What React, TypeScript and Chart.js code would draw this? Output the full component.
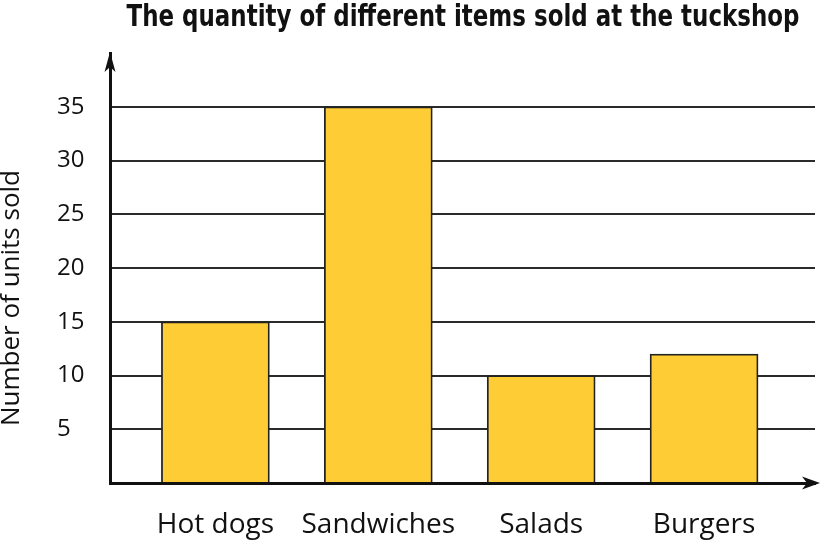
import React, { useEffect, useRef } from "react";
import { Chart, registerables } from "chart.js";

Chart.register(...registerables);

const categories = ["Hot dogs", "Sandwiches", "Salads", "Burgers"];
const unitsSold = [15, 35, 10, 12];
const yTickValues = [5, 10, 15, 20, 25, 30, 35];
const titleText = "The quantity of different items sold at the tuckshop";
const yAxisTitle = "Number of units sold";

const FONT = "'Open Sans', 'DejaVu Sans', sans-serif";

const decorPlugin = {
  id: "decor",
  afterDraw(chart: any) {
    const { ctx, chartArea } = chart;
    ctx.save();
    // Title (condensed bold)
    ctx.fillStyle = "#111";
    ctx.font = "bold 28px 'DejaVu Sans', sans-serif";
    try {
      (ctx as any).fontStretch = "condensed";
    } catch (e) {}
    ctx.textAlign = "center";
    ctx.textBaseline = "alphabetic";
    const w = ctx.measureText(titleText).width;
    const sx = Math.min(1, 673 / w);
    ctx.save();
    ctx.translate(463, 26);
    ctx.scale(sx, 1.05);
    ctx.fillText(titleText, 0, 0);
    ctx.restore();
    try {
      (ctx as any).fontStretch = "normal";
    } catch (e) {}
    // Y axis title
    ctx.save();
    ctx.translate(12, 298);
    ctx.rotate(-Math.PI / 2);
    ctx.font = `26px ${FONT}`;
    ctx.textAlign = "center";
    ctx.textBaseline = "middle";
    ctx.fillStyle = "#111";
    ctx.fillText(yAxisTitle, 0, 0);
    ctx.restore();
    // Arrowheads
    ctx.fillStyle = "#111";
    const xAxis = chart.scales.x;
    const yAxis = chart.scales.y;
    const ax = yAxis.right;
    const topY = chartArea.top - 1;
    ctx.beginPath();
    ctx.moveTo(ax, topY);
    ctx.lineTo(ax - 5.5, topY + 20);
    ctx.lineTo(ax, topY + 15);
    ctx.lineTo(ax + 5.5, topY + 20);
    ctx.closePath();
    ctx.fill();
    const ay = xAxis.top;
    const rx = chartArea.right + 5;
    ctx.beginPath();
    ctx.moveTo(rx, ay);
    ctx.lineTo(rx - 18, ay - 6.5);
    ctx.lineTo(rx - 13, ay);
    ctx.lineTo(rx - 18, ay + 6.5);
    ctx.closePath();
    ctx.fill();
    ctx.restore();
  },
};

export default function App() {
  const ref = useRef<HTMLCanvasElement | null>(null);
  useEffect(() => {
    document.body.style.margin = "0";
    const canvas = ref.current;
    if (!canvas) return;
    const chart = new Chart(canvas, {
      type: "bar",
      data: {
        datasets: [
          {
            data: unitsSold.map((v, i) => ({ x: i, y: v })),
            backgroundColor: "#FECD35",
            borderColor: "#222",
            borderWidth: 1.8,
            barThickness: 108,
          },
        ],
      },
      plugins: [decorPlugin],
      options: {
        responsive: false,
        animation: false,
        devicePixelRatio: 1,
        layout: { padding: { top: 53, right: 5, left: 57, bottom: 0 } },
        plugins: {
          legend: { display: false },
          title: { display: false },
          tooltip: { enabled: false },
        },
        scales: {
          x: {
            type: "linear",
            offset: false,
            min: -0.647,
            max: 3.681,
            afterBuildTicks: (scale: any) => {
              scale.ticks = categories.map((_, i) => ({ value: i }));
            },
            afterFit: (scale: any) => {
              scale.height = 59;
            },
            grid: { display: false, drawTicks: false, offset: false },
            border: { display: true, color: "#111", width: 3 },
            ticks: {
              padding: 25,
              color: "#111",
              font: { family: FONT, size: 28 },
              maxRotation: 0,
              autoSkip: false,
              callback: (v: any) => categories[v] ?? "",
            },
          },
          y: {
            min: 0,
            max: 40,
            afterBuildTicks: (scale: any) => {
              scale.ticks = [0, ...yTickValues, 40].map((v) => ({ value: v }));
            },
            afterFit: (scale: any) => {
              scale.width = 53;
            },
            grid: {
              drawTicks: false,
              color: (c: any) =>
                c.tick && (c.tick.value === 0 || c.tick.value === 40) ? "rgba(0,0,0,0)" : "#2a2a2a",
              lineWidth: 2,
            },
            border: { display: true, color: "#111", width: 3 },
            ticks: {
              crossAlign: "far",
              padding: 0,
              color: "#111",
              font: { family: FONT, size: 24 },
              callback: (v: any) => (v === 0 || v === 40 ? "" : String(v)),
            },
          },
        },
      },
    } as any);
    return () => chart.destroy();
  }, []);
  return (
    <div style={{ width: 820, height: 542, background: "#fff" }}>
      <canvas ref={ref} width={820} height={542} />
    </div>
  );
}
